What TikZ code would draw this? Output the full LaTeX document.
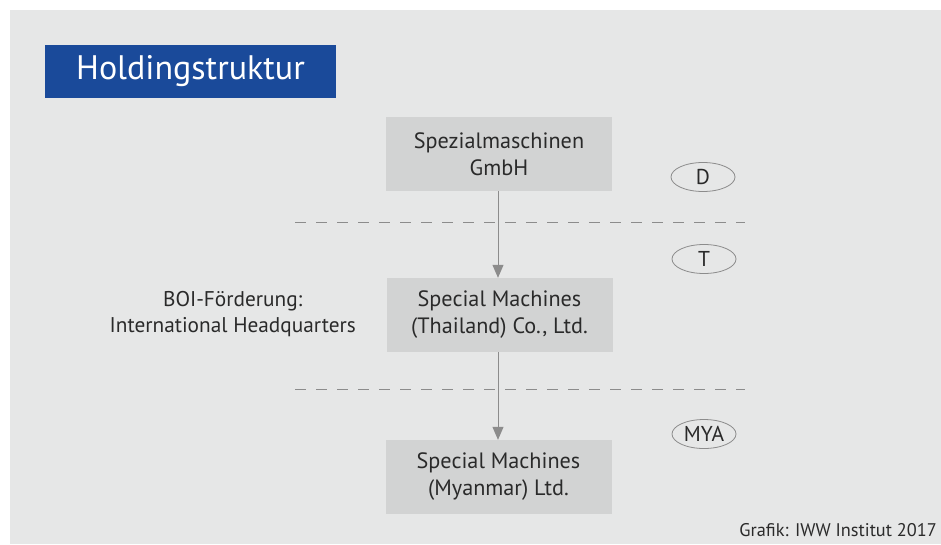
\documentclass[tikz,border=0pt]{standalone}
\usepackage{fontspec}
\setmainfont{PT Sans}
\usetikzlibrary{arrows.meta,shapes.geometric}
\definecolor{panel}{HTML}{E6E7E7}
\definecolor{boxfill}{HTML}{D2D3D3}
\definecolor{titleblue}{HTML}{1A4A9A}
\definecolor{linegray}{HTML}{8C8C8C}
\definecolor{txt}{HTML}{2A2A2A}
\tikzset{
  entity/.style={fill=boxfill, minimum width=226pt, minimum height=74pt, align=center, text=txt, font=\fontsize{22.2}{27}\selectfont, inner sep=0pt},
  country/.style={ellipse, draw=linegray, line width=0.8pt, minimum width=64pt, minimum height=29pt, inner sep=0pt, text=txt, font=\fontsize{21.5}{22}\selectfont},
  border/.style={linegray, line width=1pt, dash pattern=on 11pt off 10pt},
  link/.style={linegray, line width=1pt, -{Triangle[length=13pt,width=11pt]}},
}
\begin{document}
\begin{tikzpicture}[x=1pt,y=-1pt]
\useasboundingbox (0,0) rectangle (941,544);
\fill[white] (0,0) rectangle (941,544);
\fill[panel] (10,10) rectangle (941,544);
\node[fill=titleblue, minimum width=291pt, minimum height=53pt, inner sep=0pt, text=white, font=\fontsize{34}{36}\selectfont] (title) at (190.5,71.5) {Holdingstruktur};
\node[entity] (de) at (499,154) {Spezialmaschinen\\GmbH};
\node[entity] (th) at (499.5,315) {Special Machines\\(Thailand) Co., Ltd.};
\node[entity] (my) at (498.5,477) {Special Machines\\(Myanmar) Ltd.};
\node[country] (cd) at (703,177) {D};
\node[country] (ct) at (704,259) {T};
\node[country] (cm) at (704,434) {MYA};
\coordinate (l1a) at (295,222); \coordinate (l1b) at (745,222);
\coordinate (l2a) at (295,389); \coordinate (l2b) at (745,389);
\draw[border] (l1a) -- (l1b);
\draw[border] (l2a) -- (l2b);
\draw[link] (de.south -| 498,0) -- (th.north -| 498,0);
\draw[link] (th.south -| 498,0) -- (my.north -| 498,0);
\node[align=center, text=txt, font=\fontsize{21.3}{26}\selectfont, anchor=east, inner sep=0pt] (boi) at (356,314) {BOI-Förderung:\\International Headquarters};
\node[anchor=east, text=txt, font=\fontsize{18.3}{20}\selectfont, inner sep=0pt] (credit) at (937,530) {Grafik: IWW Institut 2017};
\end{tikzpicture}
\end{document}
